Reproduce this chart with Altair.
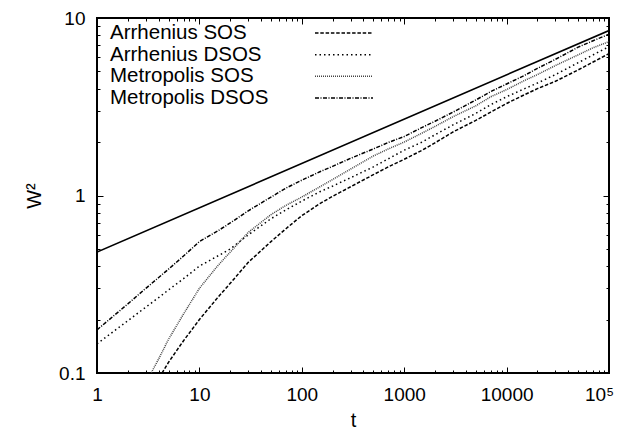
import altair as alt
import pandas as pd

# ---- data ----
series_names = ["Arrhenius SOS", "Arrhenius DSOS", "Metropolis SOS", "Metropolis DSOS"]

t_full = [1, 2, 3, 4, 5, 7, 10, 15, 20, 30, 50, 70, 100, 150, 200, 300, 500, 700,
          1000, 1500, 2000, 3000, 5000, 7000, 10000, 15000, 20000, 30000, 50000, 70000, 100000]

metro_dsos = [0.175, 0.245, 0.30, 0.345, 0.385, 0.456, 0.55, 0.63, 0.70, 0.82,
              0.98, 1.10, 1.22, 1.36, 1.46, 1.62, 1.83, 1.99, 2.15, 2.42,
              2.62, 2.95, 3.45, 3.85, 4.25, 4.75, 5.2, 5.85, 6.85, 7.45, 8.1]

arr_dsos = [0.146, 0.197, 0.235, 0.266, 0.294, 0.34, 0.40, 0.455, 0.50, 0.60,
            0.74, 0.83, 0.93, 1.05, 1.13, 1.26, 1.45, 1.61, 1.80, 2.0,
            2.2, 2.5, 2.9, 3.25, 3.6, 4.0, 4.3, 4.8, 5.6, 6.2, 6.9]

t_metro_sos = t_full[1:]
metro_sos = [0.055, 0.088, 0.12, 0.155, 0.215, 0.30, 0.40, 0.48, 0.62,
             0.78, 0.88, 0.98, 1.12, 1.23, 1.41, 1.67, 1.83, 2.0, 2.25,
             2.45, 2.78, 3.2, 3.6, 3.95, 4.45, 4.8, 5.4, 6.2, 6.8, 7.36]

t_arr_sos = t_full[2:]
arr_sos = [0.07, 0.093, 0.115, 0.152, 0.20, 0.265, 0.32, 0.42,
           0.55, 0.65, 0.77, 0.90, 0.99, 1.12, 1.31, 1.45, 1.60, 1.8,
           1.98, 2.28, 2.65, 2.95, 3.3, 3.7, 4.0, 4.4, 5.1, 5.65, 6.3]

ref_t = [1, 100000]
ref_w = [0.48, 8.5]

x_ticks = [m * 10 ** k for k in range(5) for m in range(1, 10)] + [100000]
y_ticks = [round(m * 10.0 ** k, 6) for k in (-1, 0) for m in range(1, 10)] + [10]

# ---- tables ----
rows = []
for name, ts, ws in [("Arrhenius SOS", t_arr_sos, arr_sos),
                     ("Arrhenius DSOS", t_full, arr_dsos),
                     ("Metropolis SOS", t_metro_sos, metro_sos),
                     ("Metropolis DSOS", t_full, metro_dsos)]:
    for tv, wv in zip(ts, ws):
        rows.append({"series": name, "t": tv, "w": wv})
df = pd.DataFrame(rows)
ref_df = pd.DataFrame({"t": ref_t, "w": ref_w})
legend_df = pd.DataFrame({"series": series_names})

W, H = 512, 355
FONT = "Liberation Sans"
dec = "abs(log(datum.value)/LN10 - round(log(datum.value)/LN10)) < 0.001"

common_axis = dict(
    grid=True, gridColor="black", gridOpacity=1, gridWidth=1,
    ticks=False, domain=False, labelFont=FONT, titleFont=FONT,
    labelFontSize=19, titleFontSize=20, titleFontWeight="normal",
    labelColor="black", titleColor="black", labelFlush=False,
    labelOverlap=False, labelPadding=12,
)

x_axis = alt.Axis(
    values=x_ticks, title="t",
    labelExpr=f"({dec}) ? (datum.value == 100000 ? '10⁵' : format(datum.value, 'd')) : ''",
    labelOffset={"condition": {"test": "datum.value == 100000", "value": -10}, "value": 0},
    gridDash={"condition": {"test": dec, "value": [6, H - 12, 6, 3000]},
              "value": [3, H - 6, 3, 3000]},
    titleY=53, titleBaseline="alphabetic", **common_axis)

y_axis = alt.Axis(
    values=y_ticks, title="W²",
    labelExpr=f"({dec}) ? (datum.value < 1 ? '0.1' : format(datum.value, 'd')) : ''",
    gridDash={"condition": {"test": dec, "value": [6, W - 12, 6, 3000]},
              "value": [3, W - 6, 3, 3000]},
    titlePadding=14, **common_axis)

xs = alt.Scale(type="log", domain=[1, 100000], nice=False)
ys = alt.Scale(type="log", domain=[0.1, 10], nice=False)

color_scale = alt.Scale(domain=series_names, range=["black", "black", "#444444", "black"])
dash_scale = alt.Scale(domain=series_names, range=[[3.5, 1.8], [1.5, 3], [1, 1], [4, 1.5, 1, 1.5]])
width_scale = alt.Scale(domain=series_names, range=[1.5, 1.5, 1.0, 1.3])

curves = alt.Chart(df).mark_line(clip=True).encode(
    x=alt.X("t:Q", scale=xs, axis=x_axis),
    y=alt.Y("w:Q", scale=ys, axis=y_axis),
    color=alt.Color("series:N", scale=color_scale, legend=None),
    strokeDash=alt.StrokeDash("series:N", scale=dash_scale, legend=None),
    strokeWidth=alt.StrokeWidth("series:N", scale=width_scale, legend=None),
    detail="series:N",
)

ref_line = alt.Chart(ref_df).mark_line(clip=True, color="black", strokeWidth=1.6).encode(
    x=alt.X("t:Q", scale=xs),
    y=alt.Y("w:Q", scale=ys),
)

plot = alt.layer(curves, ref_line)

# ---- legend (inside the plot, labels left, samples right) ----
row_y = alt.Y("series:N", sort=series_names, axis=None,
              scale=alt.Scale(type="point", range=[15, 80], padding=0))

leg_text = alt.Chart(legend_df).mark_text(
    align="left", baseline="middle", font=FONT, fontSize=20.5, color="black"
).encode(x=alt.value(13), y=row_y, text="series:N")

leg_rule = alt.Chart(legend_df).mark_rule().encode(
    x=alt.value(218), x2=alt.value(276), y=row_y,
    color=alt.Color("series:N", scale=color_scale, legend=None),
    strokeDash=alt.StrokeDash("series:N", scale=dash_scale, legend=None),
    strokeWidth=alt.StrokeWidth("series:N", scale=width_scale, legend=None),
)

legend_layer = alt.layer(leg_text, leg_rule)

chart = alt.layer(plot, legend_layer).resolve_scale(y="independent").properties(
    width=W, height=H,
    autosize=alt.AutoSizeParams(type="none"),
    padding={"left": 89, "top": 10, "right": 6, "bottom": 56},
).configure_view(stroke="black", strokeWidth=2)

chart.save("out.html", embed_options={"renderer": "svg", "actions": False})
